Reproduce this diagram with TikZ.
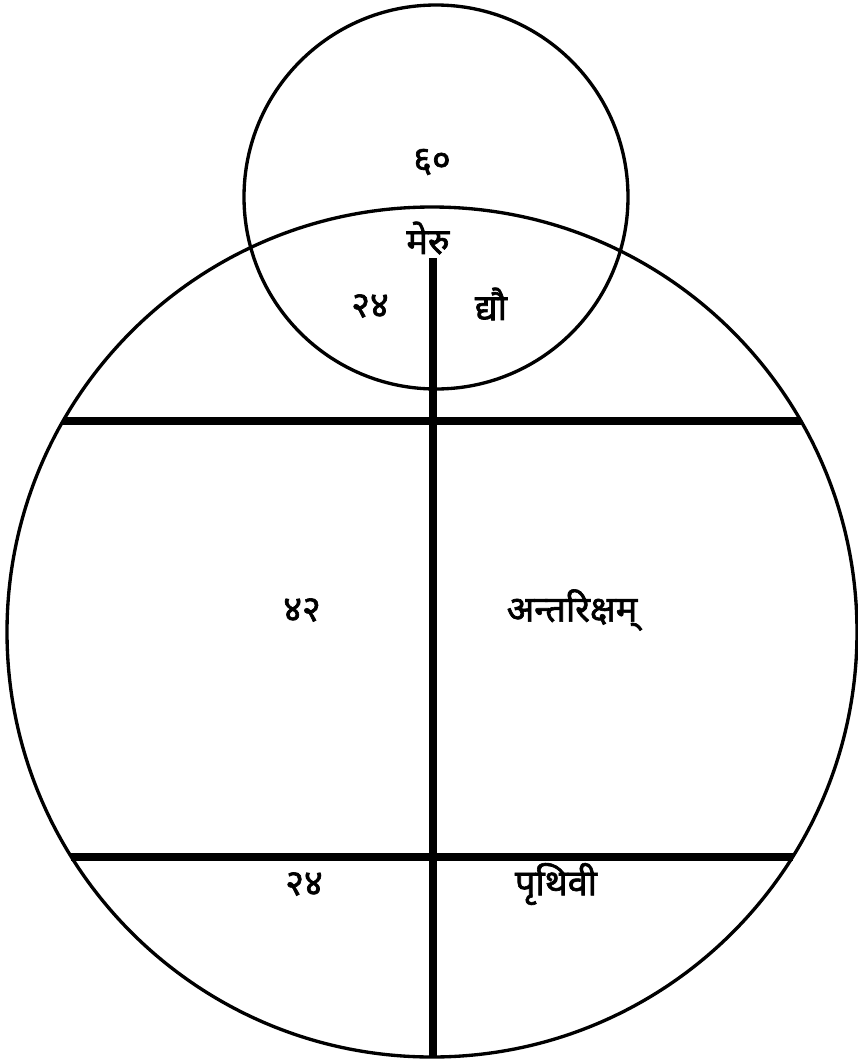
\documentclass[tikz,border=0pt]{standalone}
\usepackage{fontspec}
\newfontfamily\deva[Script=Devanagari, FakeBold=1.8]{Noto Sans}
\usetikzlibrary{positioning, calc}

\begin{document}
\begin{tikzpicture}[x=0.02cm, y=-0.02cm,
    rim/.style={draw, line width=1.9pt},
    bar/.style={draw, line width=4.5pt},
    lbl/.style={font=\deva\fontsize{20.5}{24}\selectfont, inner sep=0pt}]

  \useasboundingbox (0,0) rectangle (858,1062);

  % the two circles
  \coordinate (meru) at (436,197);
  \coordinate (loka) at (432,632);
  \draw[rim] (meru) circle [radius=192];
  \draw[rim] (loka) circle [radius=425];

  % dividing lines
  \coordinate (upL) at (63,421);
  \coordinate (upR) at (801,421);
  \coordinate (loL) at (71,857);
  \coordinate (loR) at (793,857);
  \coordinate (axT) at (433,258);
  \coordinate (axB) at (433,1057);
  \draw[bar] (upL) -- (upR);
  \draw[bar] (loL) -- (loR);
  \draw[bar] (axT) -- (axB);

  % labels
  \node[lbl] (sixty) at (432,162) {६०};
  \node[lbl] (merulbl) at (428,238) {मेरु};
  \node[lbl] (dyonum) at (370,306) {२४};
  \node[lbl] (dyo) at (491,304) {द्यौ};
  \node[lbl] (antnum) at (302,610) {४२};
  \node[lbl] (ant) at (572,610) {अन्तरिक्षम्};
  \node[lbl] (prnum) at (304,884) {२४};
  \node[lbl] (pr) at (556,884) {पृथिवी};
\end{tikzpicture}
\end{document}
